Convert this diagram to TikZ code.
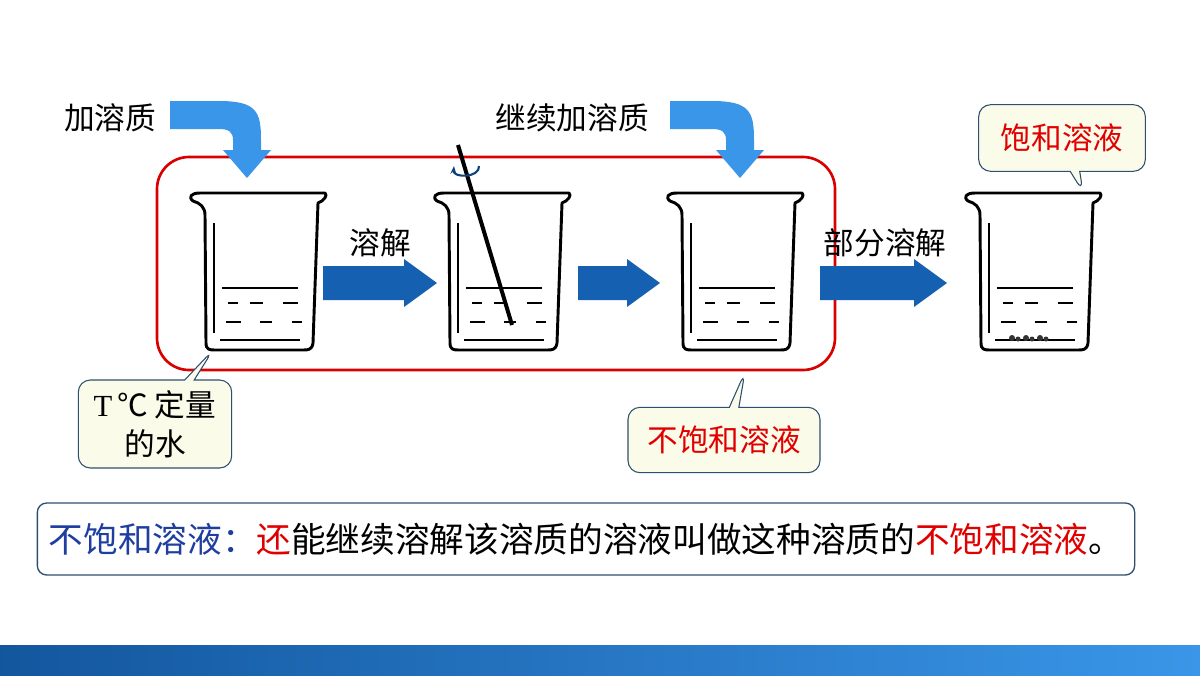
\documentclass[tikz,border=0pt]{standalone}
\usepackage{fontspec}
\setmainfont{Noto Sans CJK SC}
\usetikzlibrary{shapes.callouts,arrows.meta}
\definecolor{darkarrow}{HTML}{1560B0}
\definecolor{lightarrow}{HTML}{3A96E8}
\definecolor{calloutfill}{HTML}{FBFBEA}
\definecolor{calloutline}{HTML}{2F4F70}
\definecolor{defblue}{HTML}{1F3FA0}
\definecolor{defred}{HTML}{E00000}
\tikzset{
	beaker/.pic={
		\draw[line width=2.2pt, line join=round]
			(5,8) .. controls (0,4) and (3,0) .. (12,0) -- (137,0)
			.. controls (140,2) and (136,8) .. (130,10)
			-- (125,150) .. controls (124,157) and (120,157) .. (115,157)
			-- (27,157) .. controls (22,157) and (18,157) .. (18,150)
			-- (17,22) .. controls (17,14) and (12,10) .. (5,8) -- cycle;
		\draw[line width=1.2pt] (26,30) -- (26,140);
		\draw[line width=0.9pt] (34,95) -- (110,95);
		\draw[line width=0.9pt] (40,110) -- (50,110) (62,110) -- (75,110) (95,110) -- (110,110);
		\draw[line width=0.9pt] (38,129) -- (53,129) (72,129) -- (84,129) (104,129) -- (114,129);
		\draw[line width=0.9pt] (32,147) -- (112,147);
	},
	note/.style={rectangle callout, rounded corners=9pt, draw=calloutline, line width=0.8pt,
		fill=calloutfill, align=center, inner sep=6pt},
	label/.style={font=\fontsize{23}{29}\selectfont}
}
\newcommand\flowarrow[3]{% start x, end x, centre y
	\fill[darkarrow] (#1,#3-17) -- (#2-33,#3-17) -- (#2-33,#3-24) -- (#2,#3)
		-- (#2-33,#3+24) -- (#2-33,#3+17) -- (#1,#3+17) -- cycle;}
\begin{document}
\begin{tikzpicture}[x=0.75pt,y=-0.75pt]
	\useasboundingbox (0,0) rectangle (1200,675);
	\fill[white] (0,0) rectangle (1200,675);
	% bottom bar
	\shade[left color=darkarrow!90!black, right color=lightarrow] (0,645) rectangle (1200,675);
	% red frame
	\draw[red!85!black, line width=2pt, rounded corners=24pt] (157,157) rectangle (835,370);
	% beakers
	\pic at (188,193) {beaker};
	\pic at (432,193) {beaker};
	\pic at (665,193) {beaker};
	\pic at (963,193) {beaker};
	% undissolved solute
	\foreach \x in {1012,1026,1040}{
		\fill[black!80] (\x,338) circle (3) (\x+6,339) circle (2.5);
	}
	% stirring rod
	\draw[line width=3pt] (458,145) -- (512,325);
	\draw[darkarrow!70!black, line width=1.6pt, -{Stealth[length=6pt]}]
		(479,166) .. controls (480,178) and (453,178) .. (454,166);
	% flow arrows
	\flowarrow{323}{437}{283}
	\flowarrow{578}{660}{283}
	\flowarrow{820}{947}{283}
	\node[label, anchor=south] (t1) at (380,262) {溶解};
	\node[label, anchor=south] (t3) at (885,262) {部分溶解};
	% solute arrows
	\foreach \sx/\ex in {170/247, 670/740}{
		\fill[lightarrow] (\sx,101) -- (\ex-28,101) .. controls (\ex+10,101) and (\ex+14,112) .. (\ex+14,140)
			-- (\ex+14,150) -- (\ex+24,150) -- (\ex,178) -- (\ex-24,150) -- (\ex-14,150) -- (\ex-14,140)
			.. controls (\ex-14,132) and (\ex-18,129) .. (\ex-28,129) -- (\sx,129) -- cycle;
	}
	\node[label] (t0) at (110,118) {加溶质};
	\node[label] (t2) at (572,118) {继续加溶质};
	% callouts
	\node[note, label, minimum width=115pt, minimum height=66pt, callout absolute pointer={(213,350)}]
		(water) at (155,424) {{\fontspec{Liberation Serif}T}\,℃ 定量\\的水};
	\node[note, label, text=defred, minimum width=144pt, minimum height=49pt, callout absolute pointer={(745,372)}]
		(unsat) at (724,440) {不饱和溶液};
	\node[note, label, text=defred, minimum width=125pt, minimum height=50pt, callout absolute pointer={(1083,192)}]
		(sat) at (1062,138) {饱和溶液};
	% definition
	\node[draw=calloutline, line width=1pt, rounded corners=7pt, minimum width=823pt, minimum height=54pt,
		font=\fontsize{26}{30}\selectfont] (def) at (586,539) {\textcolor{defblue}{不饱和溶液：}\textcolor{defred}{还}能继续溶解该溶质的溶液叫做这种溶质的\textcolor{defred}{不饱和溶液}。};
\end{tikzpicture}
\end{document}
